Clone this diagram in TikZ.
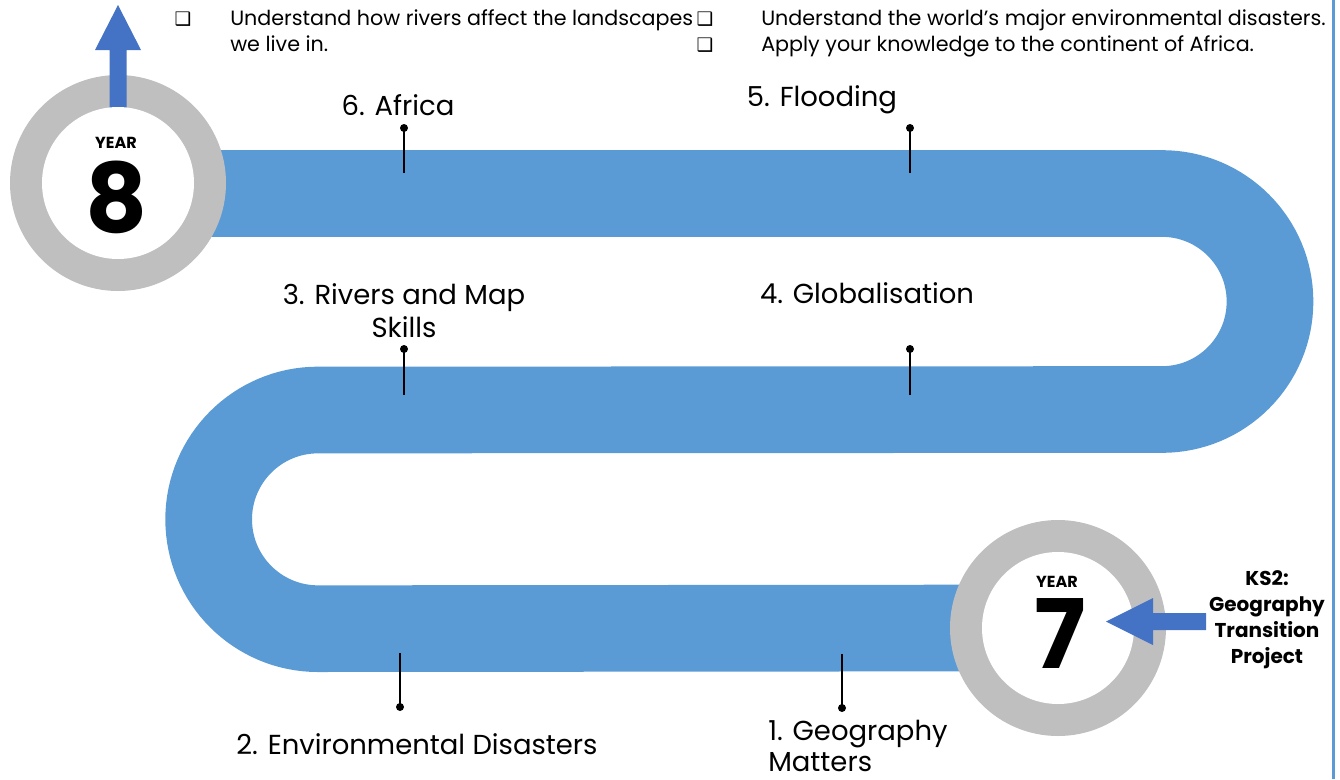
\documentclass[tikz,border=0pt]{standalone}
\usepackage{fontspec}
\setmainfont{Poppins}
\newfontfamily\symfont{DejaVu Sans}
\definecolor{band}{HTML}{5B9BD5}
\definecolor{arrowblue}{HTML}{4472C4}
\definecolor{ring}{HTML}{BFBFBF}
\begin{document}
\begin{tikzpicture}[x=0.75pt,y=0.75pt,
  lbl/.style={font=\fontsize{20.6}{25}\selectfont, inner sep=0pt, anchor=base},
  toptxt/.style={font=\fontsize{15.5}{19}\selectfont, inner sep=0pt, anchor=base west},
  chk/.style={font=\symfont\fontsize{14}{16}\selectfont, inner sep=0pt, anchor=base},
  ringnode/.style={circle, fill=ring, minimum size=162pt, inner sep=0pt},
  innode/.style={circle, fill=white, minimum size=114pt, inner sep=0pt},
  yeartxt/.style={font=\bfseries\fontsize{12}{14}\selectfont, inner sep=0pt, anchor=base},
  bignum/.style={font=\bfseries\fontsize{72}{72}\selectfont, inner sep=0pt, anchor=base},
  ks/.style={font=\bfseries\fontsize{15}{19.5}\selectfont, align=center, inner sep=0pt},
  dot/.style={circle, fill=black, minimum size=6pt, inner sep=0pt},
  tick/.style={line width=1.6pt, black}
]
\useasboundingbox (0,0) rectangle (1340,-779);
% right edge line
\fill[band] (1331.5,0) rectangle (1334.5,-779);
% snake band
\draw[band, line width=65pt, line cap=butt]
  (150,-193.5) -- (1162,-193.5) arc[start angle=90, end angle=-90, radius=81pt]
  -- (318,-410) arc[start angle=90, end angle=270, radius=82pt] -- (1000,-628);
% Year 8
\node[ringnode] (y8ring) at (118,-183) {};
\fill[arrowblue] (109.5,-110) -- (109.5,-50) -- (95,-50) -- (118,-5) -- (141,-50) -- (126.5,-50) -- (126.5,-110) -- cycle;
\node[innode] (y8in) at (118,-183) {};
\node[yeartxt] (y8y) at (116,-148) {YEAR};
\node[bignum] (y8n) at (117,-232) {8};
% Year 7
\node[ringnode] (y7ring) at (1058,-628) {};
\node[innode] (y7in) at (1058,-628) {};
\node[yeartxt] (y7y) at (1057,-587) {YEAR};
\node[bignum] (y7n) at (1060,-668) {7};
\fill[arrowblue] (1106,-621.5) -- (1153,-598) -- (1153,-613) -- (1206,-613) -- (1206,-630) -- (1153,-630) -- (1153,-645) -- cycle;
\node[ks] (ks2) at (1267,-620) {KS2:\\Geography\\Transition\\Project};
% ticks
\node[dot] (d6) at (404,-128) {}; \coordinate (e6) at (404,-173);
\node[dot] (d5) at (910,-128) {}; \coordinate (e5) at (910,-173);
\node[dot] (d3) at (404,-349) {}; \coordinate (e3) at (404,-395);
\node[dot] (d4) at (910,-349) {}; \coordinate (e4) at (910,-395);
\node[dot] (d2) at (400,-707) {}; \coordinate (e2) at (400,-653);
\node[dot] (d1) at (842,-708) {}; \coordinate (e1) at (842,-654);
\foreach \n in {6,5,3,4,2,1} {\draw[tick] (d\n.center) -- (e\n);}
% labels
\node[lbl] (l6) at (398,-115) {6. Africa};
\node[lbl] (l5) at (822,-106) {5. Flooding};
\node[lbl] (l3) at (404,-304) {3. Rivers and Map};
\node[lbl] (l3b) at (404,-337) {Skills};
\node[lbl] (l4) at (867,-303) {4. Globalisation};
\node[lbl] (l2) at (417,-754) {2. Environmental Disasters};
\node[lbl, anchor=base west] (l1) at (768,-740) {1. Geography};
\node[lbl, anchor=base west] (l1b) at (768,-771) {Matters};
% top text
\node[chk] (c1) at (183,-25) {❑};
\node[toptxt] (t1) at (230,-25) {Understand how rivers affect the landscapes};
\node[toptxt] (t2) at (230,-51) {we live in.};
\node[chk] (c2) at (705,-25) {❑};
\node[chk] (c3) at (705,-51) {❑};
\node[toptxt] (t3) at (761,-25) {Understand the world’s major environmental disasters.};
\node[toptxt] (t4) at (761,-51) {Apply your knowledge to the continent of Africa.};
\end{tikzpicture}
\end{document}
